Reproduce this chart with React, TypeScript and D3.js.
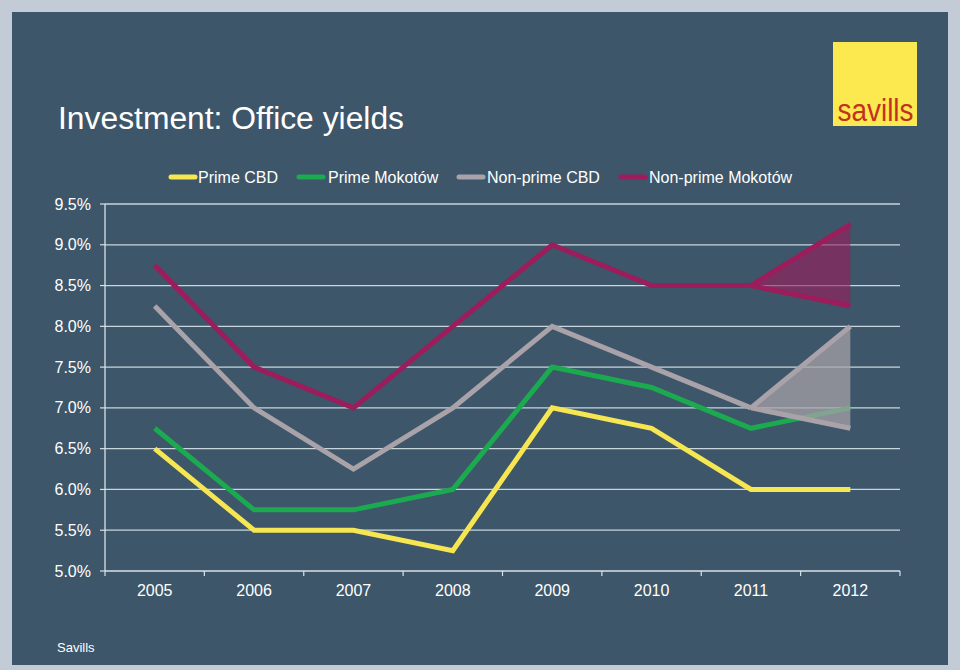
import React from "react";
import * as d3 from "d3";

const years = ["2005", "2006", "2007", "2008", "2009", "2010", "2011", "2012"];
const primeCBD = [6.5, 5.5, 5.5, 5.25, 7.0, 6.75, 6.0, 6.0];
const primeMokotow = [6.75, 5.75, 5.75, 6.0, 7.5, 7.25, 6.75, 7.0];
const nonPrimeCBD = [8.25, 7.0, 6.25, 7.0, 8.0, 7.5, 7.0];
const nonPrimeMokotow = [8.75, 7.5, 7.0, 8.0, 9.0, 8.5, 8.5];
const nonPrimeCBDRange2012 = [8.0, 6.75];
const nonPrimeMokotowRange2012 = [9.25, 8.25];
const yTicks = [5.0, 5.5, 6.0, 6.5, 7.0, 7.5, 8.0, 8.5, 9.0, 9.5];

const seriesNames = ["Prime CBD", "Prime Mokotów", "Non-prime CBD", "Non-prime Mokotów"];
const colors = ["#f6e651", "#1baa4f", "#a9a2a9", "#9d1c5c"];

export default function App() {
  const W = 960, H = 670;
  const left = 105, right = 900, top = 204, bottom = 571;
  const x = d3.scaleBand().domain(years).range([left, right]);
  const y = d3.scaleLinear().domain([5, 9.5]).range([bottom, top]);
  const cx = (yr: string) => (x(yr) as number) + x.bandwidth() / 2;
  const line = d3.line<[string, number]>().x(d => cx(d[0])).y(d => y(d[1]));
  const mk = (vals: number[]) => vals.map((v, i) => [years[i], v] as [string, number]);

  const fan = (start: number, range: number[], color: string, alpha: number, key: string) => {
    const p0: [string, number] = ["2011", start];
    const pts: [string, number][] = [p0, ["2012", range[0]], ["2012", range[1]]];
    const area = d3.line<[string, number]>().x(d => cx(d[0])).y(d => y(d[1]))(pts) + "Z";
    return (
      <g key={key}>
        <path d={area} fill={color} fillOpacity={alpha} stroke="none" />
        <path d={line([p0, ["2012", range[0]]]) as string} stroke={color} strokeWidth={5} fill="none" strokeLinejoin="round" />
        <path d={line([p0, ["2012", range[1]]]) as string} stroke={color} strokeWidth={5} fill="none" strokeLinejoin="round" />
      </g>
    );
  };

  const swatchX = [171, 299, 459, 621];
  const textX = [198, 328, 487, 649];
  const font = "'Liberation Sans', Arial, sans-serif";

  return (
    <div style={{ position: "fixed", left: 0, top: 0 }}>
      <svg width={W} height={H} style={{ display: "block" }} fontFamily={font}>
        <rect x={0} y={0} width={W} height={H} fill="#c3cbd7" />
        <rect x={12} y={12} width={936} height={653} fill="#3d5669" />
        <text x={58} y={129} fill="#ffffff" fontSize={31} textLength={346} lengthAdjust="spacingAndGlyphs">Investment: Office yields</text>
        <rect x={833} y={42} width={84} height={84} fill="#fbe94f" />
        <text x={875.5} y={121} fill="#c4301f" fontSize={31} textAnchor="middle" textLength={76} lengthAdjust="spacingAndGlyphs">savills</text>
        {/* gridlines */}
        {yTicks.map(t => (
          <g key={t}>
            {t > 5 && <line x1={left} x2={right} y1={y(t)} y2={y(t)} stroke="#c9d6de" strokeWidth={1.3} />}
            <line x1={left - 5} x2={left} y1={y(t)} y2={y(t)} stroke="#d8e2e8" strokeWidth={1.2} />
            <text x={91} y={y(t) + 5.5} fill="#ffffff" fontSize={16} textAnchor="end">{t.toFixed(1)}%</text>
          </g>
        ))}
        <line x1={left} x2={left} y1={top} y2={bottom} stroke="#d8e2e8" strokeWidth={1.3} />
        <line x1={left} x2={right} y1={bottom} y2={bottom} stroke="#d8e2e8" strokeWidth={1.3} />
        {d3.range(years.length + 1).map(i => {
          const xx = left + i * x.bandwidth();
          return <line key={i} x1={xx} x2={xx} y1={bottom} y2={bottom + 5} stroke="#d8e2e8" strokeWidth={1.2} />;
        })}
        {years.map(yr => (
          <text key={yr} x={cx(yr)} y={596} fill="#ffffff" fontSize={16} textAnchor="middle">{yr}</text>
        ))}
        {/* series */}
        {[nonPrimeMokotow, nonPrimeCBD, primeMokotow, primeCBD].map((vals, i) => {
          const ci = 3 - i;
          return <path key={ci} d={line(mk(vals)) as string} stroke={colors[ci]} strokeWidth={5} fill="none" strokeLinejoin="miter" />;
        })}
        {fan(nonPrimeCBD[6], nonPrimeCBDRange2012, colors[2], 0.72, "fanCBD")}
        {fan(nonPrimeMokotow[6], nonPrimeMokotowRange2012, colors[3], 0.6, "fanMok")}
        {/* legend */}
        {seriesNames.map((n, i) => (
          <g key={n}>
            <line x1={swatchX[i]} x2={swatchX[i] + 24} y1={177} y2={177} stroke={colors[i]} strokeWidth={5} strokeLinecap="round" />
            <text x={textX[i]} y={182.5} fill="#ffffff" fontSize={16}>{n}</text>
          </g>
        ))}
        <text x={57} y={652} fill="#ffffff" fontSize={13}>Savills</text>
      </svg>
    </div>
  );
}
